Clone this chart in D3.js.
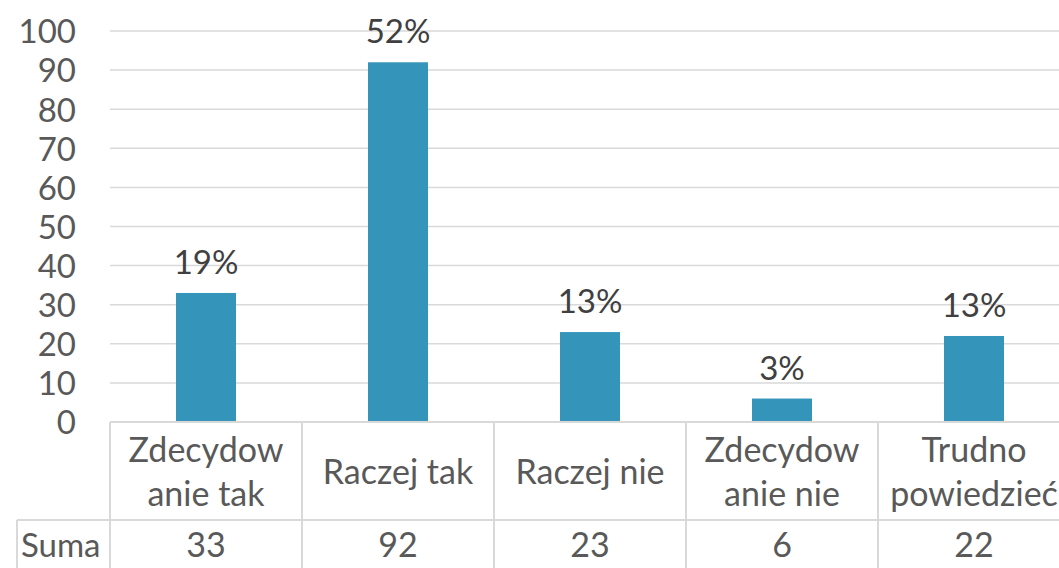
<!DOCTYPE html>
<html>
<head>
<meta charset="utf-8">
<script src="https://cdn.jsdelivr.net/npm/d3@7"></script>
<style>
  body { margin: 0; background: #fff; overflow: hidden; }
  text { font-family: Lato, "Open Sans", sans-serif; }
</style>
</head>
<body>
<div id="wrapper"></div>
<script>
// data
const categories = ['Zdecydowanie tak', 'Raczej tak', 'Raczej nie', 'Zdecydowanie nie', 'Trudno powiedzieć'];
const categoryLines = [['Zdecydow', 'anie tak'], ['Raczej tak'], ['Raczej nie'], ['Zdecydow', 'anie nie'], ['Trudno', 'powiedzieć']];
const sums = [33, 92, 23, 6, 22];
const percentLabels = ['19%', '52%', '13%', '3%', '13%'];
const yTicks = [0, 10, 20, 30, 40, 50, 60, 70, 80, 90, 100];
const rowHeader = 'Suma';

function drawChart() {
  let dimensions = {
    width: 1059,
    height: 568,
    plotLeft: 110,
    plotRight: 1070,
    plotTop: 31,
    plotBottom: 422,
    tableRowLine: 520,
    tableBottom: 600,
    tableLeft: 17,
  }

  const wrapper = d3.select('#wrapper')
    .append('svg')
    .attr('width', dimensions.width)
    .attr('height', dimensions.height)

  const xScale = d3.scaleBand()
    .domain(categories)
    .range([dimensions.plotLeft, dimensions.plotRight])
    .paddingInner(0.6875)
    .paddingOuter(0.34375)

  const yScale = d3.scaleLinear()
    .domain([0, 100])
    .range([dimensions.plotBottom, dimensions.plotTop])

  const step = xScale.step()
  const center = i => xScale(categories[i]) + xScale.bandwidth() / 2

  // gridlines + y axis labels
  const yAxisGenerator = d3.axisLeft(yScale)
    .tickValues(yTicks)
    .tickSize(0)
    .tickPadding(0)
  const yAxis = wrapper.append('g')
    .attr('transform', `translate(76,0)`)
    .call(yAxisGenerator)
  yAxis.select('.domain').remove()
  yAxis.selectAll('text')
    .attr('fill', '#595959')
    .style('font-size', '33px')
    .attr('dy', '0.36em')

  wrapper.append('g')
    .selectAll('line')
    .data(yTicks.filter(d => d > 0))
    .enter()
    .append('line')
    .attr('x1', dimensions.plotLeft)
    .attr('x2', dimensions.plotRight)
    .attr('y1', d => yScale(d))
    .attr('y2', d => yScale(d))
    .attr('stroke', '#D9D9D9')
    .attr('stroke-width', 1.5)

  // bars
  wrapper.append('g')
    .selectAll('rect')
    .data(sums)
    .enter()
    .append('rect')
    .attr('x', (d, i) => xScale(categories[i]))
    .attr('y', d => yScale(d))
    .attr('width', xScale.bandwidth())
    .attr('height', d => yScale(0) - yScale(d))
    .attr('fill', '#3494BA')

  // data labels
  wrapper.append('g')
    .selectAll('text')
    .data(sums)
    .enter()
    .append('text')
    .attr('x', (d, i) => center(i))
    .attr('y', d => yScale(d) - 19)
    .attr('text-anchor', 'middle')
    .attr('fill', '#404040')
    .style('font-size', '33px')
    .text((d, i) => percentLabels[i])

  // data table
  const table = wrapper.append('g')
  const lineColor = '#D9D9D9'
  table.append('line')
    .attr('x1', dimensions.plotLeft).attr('x2', dimensions.plotRight)
    .attr('y1', dimensions.plotBottom).attr('y2', dimensions.plotBottom)
    .attr('stroke', lineColor).attr('stroke-width', 2)
  table.append('line')
    .attr('x1', dimensions.tableLeft).attr('x2', dimensions.plotRight)
    .attr('y1', dimensions.tableRowLine).attr('y2', dimensions.tableRowLine)
    .attr('stroke', lineColor).attr('stroke-width', 2)
  table.append('line')
    .attr('x1', dimensions.tableLeft).attr('x2', dimensions.tableLeft)
    .attr('y1', dimensions.tableRowLine).attr('y2', dimensions.tableBottom)
    .attr('stroke', lineColor).attr('stroke-width', 2)
  table.selectAll('.vline')
    .data(d3.range(categories.length + 1))
    .enter()
    .append('line')
    .attr('class', 'vline')
    .attr('x1', d => dimensions.plotLeft + d * step)
    .attr('x2', d => dimensions.plotLeft + d * step)
    .attr('y1', dimensions.plotBottom)
    .attr('y2', dimensions.tableBottom)
    .attr('stroke', lineColor).attr('stroke-width', 2)

  // category names
  const catMid = (dimensions.plotBottom + dimensions.tableRowLine) / 2
  const lineGap = 44
  categoryLines.forEach((lines, i) => {
    const t = table.append('text')
      .attr('text-anchor', 'middle')
      .attr('fill', '#595959')
      .style('font-size', '34px')
    lines.forEach((line, j) => {
      t.append('tspan')
        .attr('x', center(i))
        .attr('y', catMid + 13 + (j - (lines.length - 1) / 2) * lineGap)
        .text(line)
    })
  })

  // sum row
  table.append('text')
    .attr('x', dimensions.tableLeft + 4)
    .attr('y', 557)
    .attr('fill', '#595959')
    .style('font-size', '33px')
    .text(rowHeader)
  table.selectAll('.sum')
    .data(sums)
    .enter()
    .append('text')
    .attr('class', 'sum')
    .attr('x', (d, i) => center(i))
    .attr('y', 557)
    .attr('text-anchor', 'middle')
    .attr('fill', '#595959')
    .style('font-size', '34px')
    .text(d => d)
}

drawChart();
</script>
</body>
</html>
